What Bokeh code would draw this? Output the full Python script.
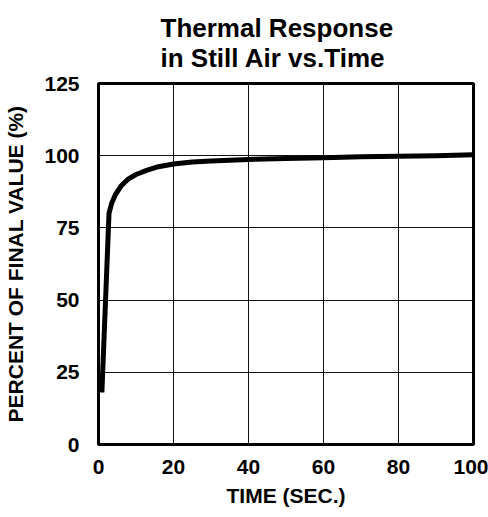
from bokeh.plotting import figure
from bokeh.models import Range1d, Title, FixedTicker
from bokeh.embed import file_html
from bokeh.resources import INLINE

# Data
time_sec = [0.9, 2.8, 3.5, 4.5, 6, 8, 10, 13, 16, 20, 25, 30, 40, 50, 60, 70, 80, 90, 100]
percent = [18, 80, 83.5, 86.5, 89.5, 92, 93.5, 95, 96.2, 97.1, 97.8, 98.2, 98.7, 99.0, 99.3, 99.6, 99.8, 100.0, 100.3]
x_ticks = [0, 20, 40, 60, 80, 100]
y_ticks = [0, 25, 50, 75, 100, 125]
title_text = "Thermal Response\nin Still Air vs.Time"

FONT = "Liberation Sans"

p = figure(frame_width=375, frame_height=361, output_backend="svg", toolbar_location=None,
           x_range=Range1d(0, 100), y_range=Range1d(0, 125),
           min_border_left=98, min_border_right=15, min_border_top=83, min_border_bottom=73)

p.title = None
t = Title(text=title_text, align="left", text_font=FONT,
          text_font_size="26px", text_font_style="bold", text_color="black",
          text_line_height=1.03, standoff=20, offset=62)
p.add_layout(t, "above")

p.line(time_sec, percent, line_color="black", line_width=5, line_join="round")

p.outline_line_color = "black"
p.outline_line_width = 3
p.outline_line_alpha = 1

for ax in (p.xaxis, p.yaxis):
    ax.axis_line_color = None
    ax.major_tick_line_color = None
    ax.minor_tick_line_color = None
    ax.major_label_text_font = FONT
    ax.major_label_text_font_size = "21px"
    ax.major_label_text_font_style = "bold"
    ax.major_label_text_color = "black"
    ax.axis_label_text_font = FONT
    ax.axis_label_text_font_size = "21px"
    ax.axis_label_text_font_style = "bold"
    ax.axis_label_text_color = "black"

p.xaxis.ticker = FixedTicker(ticks=x_ticks)
p.yaxis.ticker = FixedTicker(ticks=y_ticks)
p.xaxis.axis_label = "TIME (SEC.)"
p.yaxis.axis_label = "PERCENT OF FINAL VALUE (%)"
p.xaxis.major_label_standoff = 9
p.yaxis.major_label_standoff = 13
p.xaxis.axis_label_standoff = 7
p.yaxis.axis_label_standoff = 14

p.xgrid.grid_line_color = "#111111"
p.ygrid.grid_line_color = "#111111"
p.xgrid.grid_line_width = 1
p.ygrid.grid_line_width = 1

p.background_fill_color = "white"
p.border_fill_color = "white"

open("out.html", "w").write(file_html(p, INLINE))
